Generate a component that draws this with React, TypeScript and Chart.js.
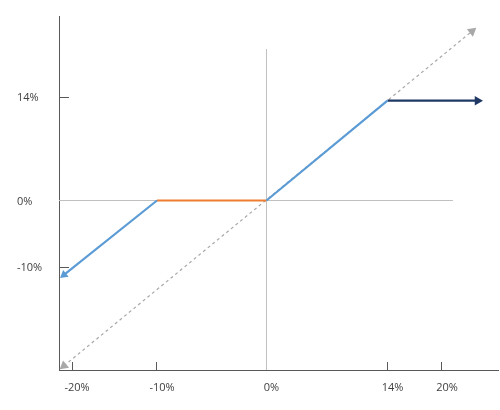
import React, { useEffect, useRef } from 'react';
import { Chart, registerables, LinearScale } from 'chart.js';

// ---------- axis ticks ----------
const X_TICKS = [-20, -10, 0, 14, 20];
const Y_TICKS = [-10, 0, 14];
const X_MIN = -21.53;
const X_MAX = 26.17;
const Y_MIN = -25.49;
const Y_MAX = 24.96;

// The reference axes are schematic (not evenly spaced): piecewise layout of each axis
const X_AXIS_VALUES = [-20, -10, 0, 14, 20];
const X_AXIS_LAYOUT = [72, 157, 266.5, 387.5, 442];
const Y_AXIS_VALUES = [-10, 0, 14];
const Y_AXIS_LAYOUT = [267, 200.5, 97];

// ---------- series (x %, y %) ----------
const underlyingX = [-20.95, 23.31];
const underlyingY = [-24.86, 22.9];
const lowerLegX = [-10, -20.95];
const lowerLegY = [0, -11.19];
const flatLegX = [-10, 0];
const flatLegY = [0, 0];
const upperLegX = [0, 14];
const upperLegY = [0, 13.5];
const capLegX = [14, 23.91];
const capLegY = [13.5, 13.5];
const zeroLineHX = [X_MIN, 21.21];
const zeroLineHY = [0, 0];
const zeroLineVX = [0, 0];
const zeroLineVY = [Y_MIN, 20.49];

function interp(v: number, vals: number[], pos: number[]): number {
  let vs = vals, ps = pos;
  if (vs[0] > vs[vs.length - 1]) {
    vs = [...vs].reverse();
    ps = [...ps].reverse();
  }
  const n = vs.length;
  let i = 0;
  if (v <= vs[0]) i = 0;
  else if (v >= vs[n - 1]) i = n - 2;
  else {
    while (i < n - 2 && v > vs[i + 1]) i++;
  }
  const t = (v - vs[i]) / (vs[i + 1] - vs[i]);
  return ps[i] + t * (ps[i + 1] - ps[i]);
}

class PiecewiseScale extends LinearScale {
  static id = 'piecewise';
  static defaults = {};
  _map(): [number[], number[]] {
    return (this as any).axis === 'x'
      ? [X_AXIS_VALUES, X_AXIS_LAYOUT]
      : [Y_AXIS_VALUES, Y_AXIS_LAYOUT];
  }
  getPixelForValue(value: any) {
    if (value === null || value === undefined || isNaN(value)) return NaN;
    const [vals, pos] = this._map();
    const u0 = interp((this as any).min, vals, pos);
    const u1 = interp((this as any).max, vals, pos);
    return (this as any).getPixelForDecimal((interp(value, vals, pos) - u0) / (u1 - u0));
  }
  getValueForPixel(pixel: number) {
    const [vals, pos] = this._map();
    const u0 = interp((this as any).min, vals, pos);
    const u1 = interp((this as any).max, vals, pos);
    const u = u0 + (this as any).getDecimalForPixel(pixel) * (u1 - u0);
    return interp(u, pos, vals);
  }
}

Chart.register(...registerables, PiecewiseScale as any);

const pts = (xs: number[], ys: number[]) => xs.map((x, i) => ({ x, y: ys[i] }));

const FONT = { family: '"Open Sans", "Liberation Sans", sans-serif', size: 11 };
const TEXT = '#404040';
const AXIS = '#595959';

export default function App() {
  const ref = useRef<HTMLCanvasElement>(null);
  useEffect(() => {
    if (!ref.current) return;
    const seg = (xs: number[], ys: number[], color: string, width: number, extra: any = {}) => ({
      data: pts(xs, ys),
      showLine: true,
      borderColor: color,
      backgroundColor: color,
      borderWidth: width,
      pointRadius: 0,
      pointHoverRadius: 0,
      pointBorderWidth: 0,
      pointBackgroundColor: color,
      pointStyle: 'triangle',
      tension: 0,
      fill: false,
      clip: false,
      ...extra,
    });
    const chart = new Chart(ref.current, {
      type: 'scatter',
      data: {
        datasets: [
          seg(zeroLineHX, zeroLineHY, '#C0C0C0', 1, { order: 10 }),
          seg(zeroLineVX, zeroLineVY, '#C0C0C0', 1, { order: 10 }),
          seg(underlyingX, underlyingY, '#A8A8A8', 1.2, {
            order: 5,
            borderDash: [3, 3],
            pointRadius: [5.5, 5.5],
            pointRotation: [230.66, 50.66],
          }),
          seg(flatLegX, flatLegY, '#ED7D31', 2.2, { order: 2 }),
          seg(lowerLegX, lowerLegY, '#5B9BD5', 2.2, {
            order: 1,
            pointRadius: [0, 5],
            pointRotation: [0, 231.4],
          }),
          seg(upperLegX, upperLegY, '#5B9BD5', 2.2, { order: 1 }),
          seg(capLegX, capLegY, '#1F3864', 2.2, {
            order: 1,
            pointRadius: [0, 5.5],
            pointRotation: [0, 90],
          }),
        ],
      },
      options: {
        animation: false,
        responsive: false,
        events: [],
        layout: { autoPadding: false, padding: { left: 17, right: 2, top: 16, bottom: 0 } },
        plugins: { legend: { display: false }, tooltip: { enabled: false } },
        scales: {
          x: {
            type: 'piecewise' as any,
            position: 'bottom',
            min: X_MIN,
            max: X_MAX,
            bounds: 'data',
            afterBuildTicks: (s: any) => {
              s.ticks = X_TICKS.map((v) => ({ value: v }));
            },
            afterFit: (s: any) => {
              s.height = 40;
              s.paddingLeft = 0;
              s.paddingRight = 0;
            },
            ticks: {
              autoSkip: false,
              maxRotation: 0,
              padding: 19,
              labelOffset: 5,
              color: TEXT,
              font: FONT,
              callback: (v: any) => `${v}%`,
            },
            grid: {
              drawOnChartArea: false,
              drawTicks: true,
              tickLength: -8,
              color: (c: any) => (c.tick && c.tick.value === 0 ? 'rgba(0,0,0,0)' : AXIS),
            },
            border: { display: true, color: AXIS, width: 1 },
          } as any,
          y: {
            type: 'piecewise' as any,
            position: 'left',
            min: Y_MIN,
            max: Y_MAX,
            bounds: 'data',
            afterBuildTicks: (s: any) => {
              s.ticks = Y_TICKS.map((v) => ({ value: v }));
            },
            afterFit: (s: any) => {
              s.width = 42;
              s.paddingTop = 0;
              s.paddingBottom = 0;
            },
            ticks: {
              autoSkip: false,
              crossAlign: 'far',
              padding: 4,
              labelOffset: 1,
              color: TEXT,
              font: FONT,
              callback: (v: any) => `${v}%`,
            },
            grid: {
              drawOnChartArea: false,
              drawTicks: true,
              tickLength: -10,
              color: (c: any) => (c.tick && c.tick.value === 0 ? 'rgba(0,0,0,0)' : AXIS),
            },
            border: { display: true, color: AXIS, width: 1 },
          } as any,
        },
      },
    } as any);
    return () => chart.destroy();
  }, []);
  return (
    <div style={{ position: 'absolute', left: 0, top: 0, width: 500, height: 410, background: '#fff' }}>
      <canvas ref={ref} width={500} height={410} style={{ display: 'block' }} />
    </div>
  );
}
